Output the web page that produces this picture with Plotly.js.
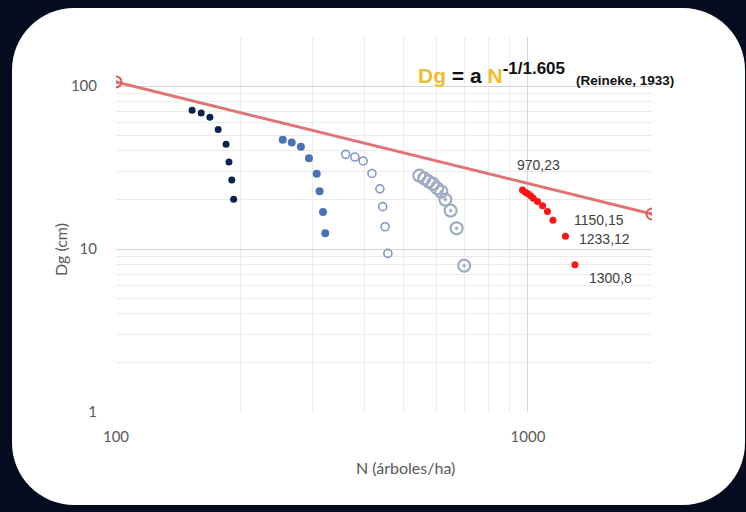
<!DOCTYPE html>
<html>
<head>
<meta charset="utf-8">
<script src="https://cdn.plot.ly/plotly-3.0.1.min.js"></script>
<style>
  html, body { margin:0; padding:0; width:746px; height:512px; background:#050c1f; overflow:hidden; }
  #card { position:absolute; left:12px; top:8px; width:733px; height:497px; background:#ffffff; border-radius:62px; }
  #chart { position:absolute; left:0; top:0; width:746px; height:512px; }
</style>
</head>
<body>
<div id="card"></div>
<div id="chart"></div>
<script>
// ---- data ----
const s1N = [153, 161, 169, 177, 185, 188, 191, 193];
const s1D = [71.0, 68.3, 64.3, 54.2, 43.9, 34.2, 26.5, 20.2];

const s2N = [254, 267, 281, 294, 307, 312, 318, 322];
const s2D = [46.9, 45.1, 42.4, 36.0, 29.0, 22.6, 16.9, 12.5];

const s3N = [361, 380, 398, 418, 437, 444, 450, 457];
const s3D = [38.1, 36.7, 34.7, 29.1, 23.4, 18.2, 13.7, 9.4];

const s4N = [545, 560, 574, 588, 602, 616, 630, 649, 671, 700];
const s4D = [28.2, 27.1, 26.0, 25.1, 23.6, 22.5, 20.1, 17.2, 13.4, 7.9];

const s5N = [970, 985, 1000, 1015, 1030, 1055, 1085, 1115, 1150, 1233, 1300];
const s5D = [23, 22.3, 21.8, 21.2, 20.5, 19.6, 18.4, 17.0, 15, 12, 8];

const reinekeN = [100, 2000];
const reinekeD = [106, 16.4];

const labelIdx = [0, 8, 9, 10];
const labelText = ["970,23", "1150,15", "1233,12", "1300,8"];

const xMajor = [100, 1000];
const xMajorText = ["100", "1000"];
const xMinor = [200, 300, 400, 500, 600, 700, 800, 900, 2000];
const yMajor = [1, 10, 100];
const yMajorText = ["1", "10", "100"];
const yMinor = [2, 3, 4, 5, 6, 7, 8, 9, 20, 30, 40, 50, 60, 70, 80, 90, 200];

// ---- traces ----
const traces = [
  { x: reinekeN, y: reinekeD, mode: 'lines+markers', type: 'scatter',
    line: { color: '#e07474', width: 3 },
    marker: { symbol: 'circle-open-dot', size: 11, color: '#e05858', line: { width: 2 } } },
  { x: s1N, y: s1D, mode: 'markers', type: 'scatter',
    marker: { symbol: 'circle', size: 7, color: '#0c2250' } },
  { x: s2N, y: s2D, mode: 'markers', type: 'scatter',
    marker: { symbol: 'circle', size: 8, color: '#4a72b5' } },
  { x: s3N, y: s3D, mode: 'markers', type: 'scatter',
    marker: { symbol: 'circle-open', size: 8, color: '#8399c4', line: { width: 1.6 } } },
  { x: s4N, y: s4D, mode: 'markers', type: 'scatter',
    marker: { symbol: 'circle-open-dot', size: 12, color: '#9eabc2', line: { width: 2.2 } } },
  { x: s5N, y: s5D, mode: 'markers', type: 'scatter',
    marker: { symbol: 'circle', size: 7, color: '#ff1414' } }
];

const lblFont = { family: 'Liberation Sans, Arial, sans-serif', size: 14, color: '#404040' };
const lblShift = [[16, 25, 'center'], [19, 0, 'left'], [12, -3, 'left'], [12, -13, 'left']];
const annotations = labelIdx.map((k, i) => ({
  x: Math.log10(s5N[k]), y: Math.log10(s5D[k]), xref: 'x', yref: 'y',
  text: labelText[i], showarrow: false, font: lblFont,
  xanchor: lblShift[i][2], yanchor: 'middle', xshift: lblShift[i][0], yshift: lblShift[i][1]
}));

annotations.push({
  xref: 'paper', yref: 'paper', x: (416 - 116) / 536, y: (412 - 73) / 375,
  xanchor: 'left', yanchor: 'middle', showarrow: false,
  font: { family: 'Liberation Sans, Arial, sans-serif', size: 21, color: '#111111' },
  text: '<b><span style="color:#f2bd2c">Dg</span> = a <span style="color:#f2bd2c">N</span><sup><span style="font-size:17px">-1/1.605</span></sup></b>'
});
annotations.push({
  xref: 'paper', yref: 'paper', x: (574 - 116) / 536, y: (412 - 81) / 375,
  xanchor: 'left', yanchor: 'middle', showarrow: false,
  font: { family: 'Liberation Sans, Arial, sans-serif', size: 13.5, color: '#111111' },
  text: '<b>(Reineke, 1933)</b>'
});
annotations.push({
  xref: 'paper', yref: 'paper', x: (405 - 116) / 536, y: (412 - 467) / 375,
  xanchor: 'center', yanchor: 'middle', showarrow: false,
  font: { family: 'Lato, Open Sans, sans-serif', size: 16, color: '#595959' },
  text: 'N (árboles/ha)'
});
annotations.push({
  xref: 'paper', yref: 'paper', x: (60 - 116) / 536, y: (412 - 250) / 375,
  xanchor: 'center', yanchor: 'middle', showarrow: false, textangle: -90,
  font: { family: 'Lato, Open Sans, sans-serif', size: 16, color: '#595959' },
  text: 'Dg (cm)'
});

const tickFont = { family: 'Lato, Open Sans, sans-serif', size: 15, color: '#595959' };

const layout = {
  width: 746, height: 512,
  margin: { l: 116, r: 94, t: 37, b: 100 },
  paper_bgcolor: 'rgba(0,0,0,0)', plot_bgcolor: 'rgba(0,0,0,0)',
  showlegend: false,
  xaxis: {
    type: 'log', range: [2, Math.log10(2000)],
    tickmode: 'array', tickvals: xMajor, ticktext: xMajorText,
    ticks: '', showline: false, zeroline: false,
    gridcolor: '#d6d6d6', gridwidth: 1,
    minor: { tickmode: 'array', tickvals: xMinor, showgrid: true, gridcolor: '#ebebeb', ticks: '' },
    tickfont: tickFont, ticklabelstandoff: 14
  },
  yaxis: {
    type: 'log', range: [0, Math.log10(200)],
    tickmode: 'array', tickvals: yMajor, ticktext: yMajorText,
    ticks: '', showline: false, zeroline: false,
    gridcolor: '#d6d6d6', gridwidth: 1,
    minor: { tickmode: 'array', tickvals: yMinor, showgrid: true, gridcolor: '#ebebeb', ticks: '' },
    tickfont: tickFont, ticklabelstandoff: 18
  },
  annotations: annotations
};

Plotly.newPlot('chart', traces, layout, { displayModeBar: false, staticPlot: true });
</script>
</body>
</html>
